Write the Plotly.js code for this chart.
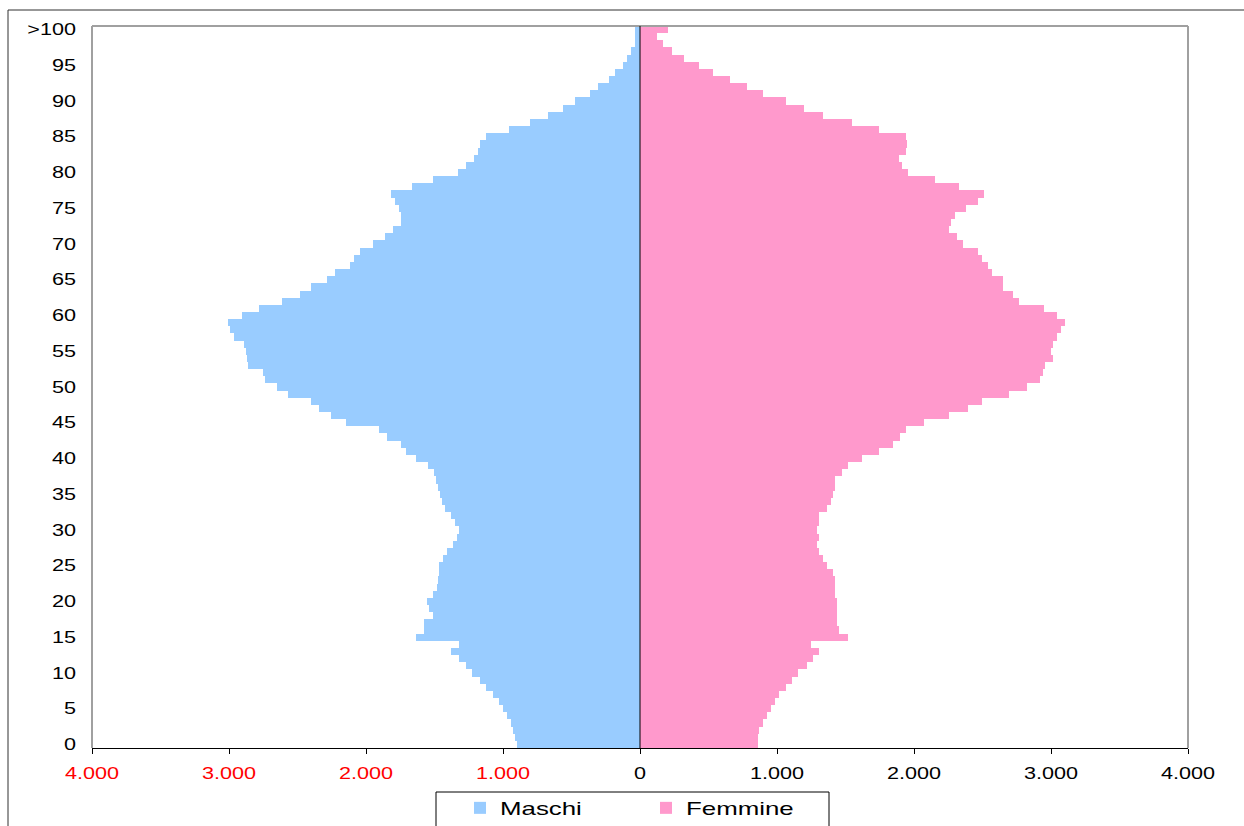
<!DOCTYPE html>
<html>
<head>
<meta charset="utf-8">
<script src="https://cdn.plot.ly/plotly-3.0.1.min.js"></script>
<style>
  html, body { margin: 0; padding: 0; background: #ffffff; }
  #chart { width: 1244px; height: 826px; }
</style>
</head>
<body>
<div id="chart"></div>
<script>
// Ages (0 .. 100, where 100 means ">100")
const ages = [0,1,2,3,4,5,6,7,8,9,10,11,12,13,14,15,16,17,18,19,20,21,22,23,24,25,26,27,28,29,30,31,32,33,34,35,36,37,38,39,40,41,42,43,44,45,46,47,48,49,50,51,52,53,54,55,56,57,58,59,60,61,62,63,64,65,66,67,68,69,70,71,72,73,74,75,76,77,78,79,80,81,82,83,84,85,86,87,88,89,90,91,92,93,94,95,96,97,98,99,100];

// Males by age
const maschi = [900,912,925,942,968,998,1031,1075,1124,1168,
  1226,1272,1319,1380,1321,1635,1574,1574,1513,1542,
  1557,1513,1484,1472,1467,1470,1436,1406,1363,1333,
  1319,1350,1382,1423,1443,1460,1474,1489,1501,1545,
  1635,1710,1742,1847,1905,2148,2255,2343,2404,2572,
  2647,2737,2750,2859,2871,2876,2888,2964,2993,3005,
  2903,2781,2615,2482,2404,2285,2224,2117,2088,2041,
  1951,1861,1801,1742,1747,1757,1788,1815,1664,1513,
  1331,1270,1209,1182,1168,1122,954,803,669,562,
  472,365,304,229,182,126,97,68,34,34,
  34];

// Females by age
const femmine = [858,858,869,900,929,959,988,1017,1063,1112,
  1156,1217,1260,1307,1246,1518,1455,1440,1440,1440,
  1440,1426,1426,1426,1411,1365,1336,1307,1292,1307,
  1292,1307,1307,1365,1397,1411,1426,1426,1472,1518,
  1623,1742,1849,1895,1939,2073,2255,2394,2499,2693,
  2827,2920,2945,2955,3013,3000,3013,3041,3071,3100,
  3041,2949,2769,2720,2647,2647,2572,2543,2496,2465,
  2360,2314,2258,2270,2299,2377,2465,2511,2331,2153,
  1954,1910,1893,1939,1951,1939,1742,1545,1336,1200,
  1063,898,779,657,535,431,324,236,170,127,
  202];

// Tick labels
const yTickVals = [0,5,10,15,20,25,30,35,40,45,50,55,60,65,70,75,80,85,90,95,100];
const yTickText = ['0','5','10','15','20','25','30','35','40','45','50','55','60','65','70','75','80','85','90','95','>100'];
const xTickVals = [-4000,-3000,-2000,-1000,0,1000,2000,3000,4000];
const xTickLabels = ['4.000','3.000','2.000','1.000','0','1.000','2.000','3.000','4.000'];
const xTickColors = ['#ff0000','#ff0000','#ff0000','#ff0000','#000000','#000000','#000000','#000000','#000000'];

const seriesNames = ['Maschi','Femmine'];
const seriesColors = ['#99ccff','#ff99cc'];

const W = 1244, H = 826;
const L = 92, R = 56, T = 26, B = 78;
const plotW = W - L - R, plotH = H - T - B;
const px = x => (x - L) / plotW;        // page pixel -> paper x
const py = y => (H - B - y) / plotH;     // page pixel -> paper y

const traces = [
  {
    type: 'bar', orientation: 'h', name: seriesNames[0],
    y: ages, x: maschi.map(v => -v),
    marker: { color: seriesColors[0], line: { width: 0 } },
    hoverinfo: 'skip'
  },
  {
    type: 'bar', orientation: 'h', name: seriesNames[1],
    y: ages, x: femmine,
    marker: { color: seriesColors[1], line: { width: 0 } },
    hoverinfo: 'skip'
  }
];

const layout = {
  width: W, height: H,
  margin: { l: L, r: R, t: T, b: B, pad: 0, autoexpand: false },
  paper_bgcolor: '#ffffff', plot_bgcolor: '#ffffff',
  barmode: 'relative', bargap: 0,
  font: { family: 'Liberation Sans, Arial, sans-serif', size: 16, color: '#000000' },
  showlegend: true,
  legend: {
    orientation: 'h', x: px(460), y: py(789), xanchor: 'left', yanchor: 'top',
    entrywidth: 141, entrywidthmode: 'pixels',
    bgcolor: 'rgba(0,0,0,0)', borderwidth: 0,
    font: { family: 'Liberation Sans, Arial, sans-serif', size: 19, color: '#000000' },
    traceorder: 'normal'
  },
  xaxis: {
    range: [-4000, 4000], fixedrange: true,
    tickmode: 'array', tickvals: xTickVals,
    ticktext: xTickLabels.map((t, i) => '<span style="color:' + xTickColors[i] + '">' + t + '</span>'),
    ticks: 'outside', ticklen: 5, tickwidth: 1, tickcolor: '#000000',
    ticklabelstandoff: 6,
    showgrid: false, zeroline: false,
    showline: true, linecolor: '#000000', linewidth: 1,
    tickfont: { size: 16 }
  },
  yaxis: {
    range: [-0.5, 100.5], fixedrange: true,
    tickmode: 'array', tickvals: yTickVals, ticktext: yTickText,
    ticks: '', ticklabelstandoff: 15,
    showgrid: false, zeroline: false, showline: false,
    tickfont: { size: 16 }
  },
  shapes: [
    // plot-area frame (top, left, right)
    { type: 'line', xref: 'paper', yref: 'paper', x0: 0, x1: 1, y0: 1, y1: 1, line: { color: '#a0a0a0', width: 2 }, layer: 'above' },
    { type: 'line', xref: 'paper', yref: 'paper', x0: 0, x1: 0, y0: 0, y1: 1, line: { color: '#a0a0a0', width: 2 }, layer: 'above' },
    { type: 'line', xref: 'paper', yref: 'paper', x0: 1, x1: 1, y0: 0, y1: 1, line: { color: '#a0a0a0', width: 2 }, layer: 'above' },
    // zero line between the two sides
    { type: 'line', xref: 'x', yref: 'paper', x0: 0, x1: 0, y0: 0, y1: 1, line: { color: '#000000', width: 1 }, layer: 'above' },
    // outer chart frame
    { type: 'line', xref: 'paper', yref: 'paper', x0: px(8), x1: px(1250), y0: py(10), y1: py(10), line: { color: '#303030', width: 1 }, layer: 'above' },
    { type: 'line', xref: 'paper', yref: 'paper', x0: px(8), x1: px(8), y0: py(10), y1: py(840), line: { color: '#303030', width: 1 }, layer: 'above' },
    // legend box
    { type: 'rect', xref: 'paper', yref: 'paper', x0: px(436), x1: px(829), y0: py(792), y1: py(840), line: { color: '#000000', width: 1 }, fillcolor: 'rgba(0,0,0,0)', layer: 'above' }
  ]
};

// The reference picture is horizontally stretched; widen the glyphs to match.
function stretchText(selector, factor) {
  document.querySelectorAll(selector).forEach(function (t) {
    const w = t.getComputedTextLength();
    if (w > 0) {
      t.setAttribute('textLength', (w * factor).toFixed(2));
      t.setAttribute('lengthAdjust', 'spacingAndGlyphs');
    }
  });
}

Plotly.newPlot('chart', traces, layout, { displayModeBar: false, staticPlot: true }).then(function () {
  stretchText('#chart .xtick text, #chart .ytick text', 1.35);
  stretchText('#chart .legendtext', 1.36);
});
</script>
</body>
</html>
